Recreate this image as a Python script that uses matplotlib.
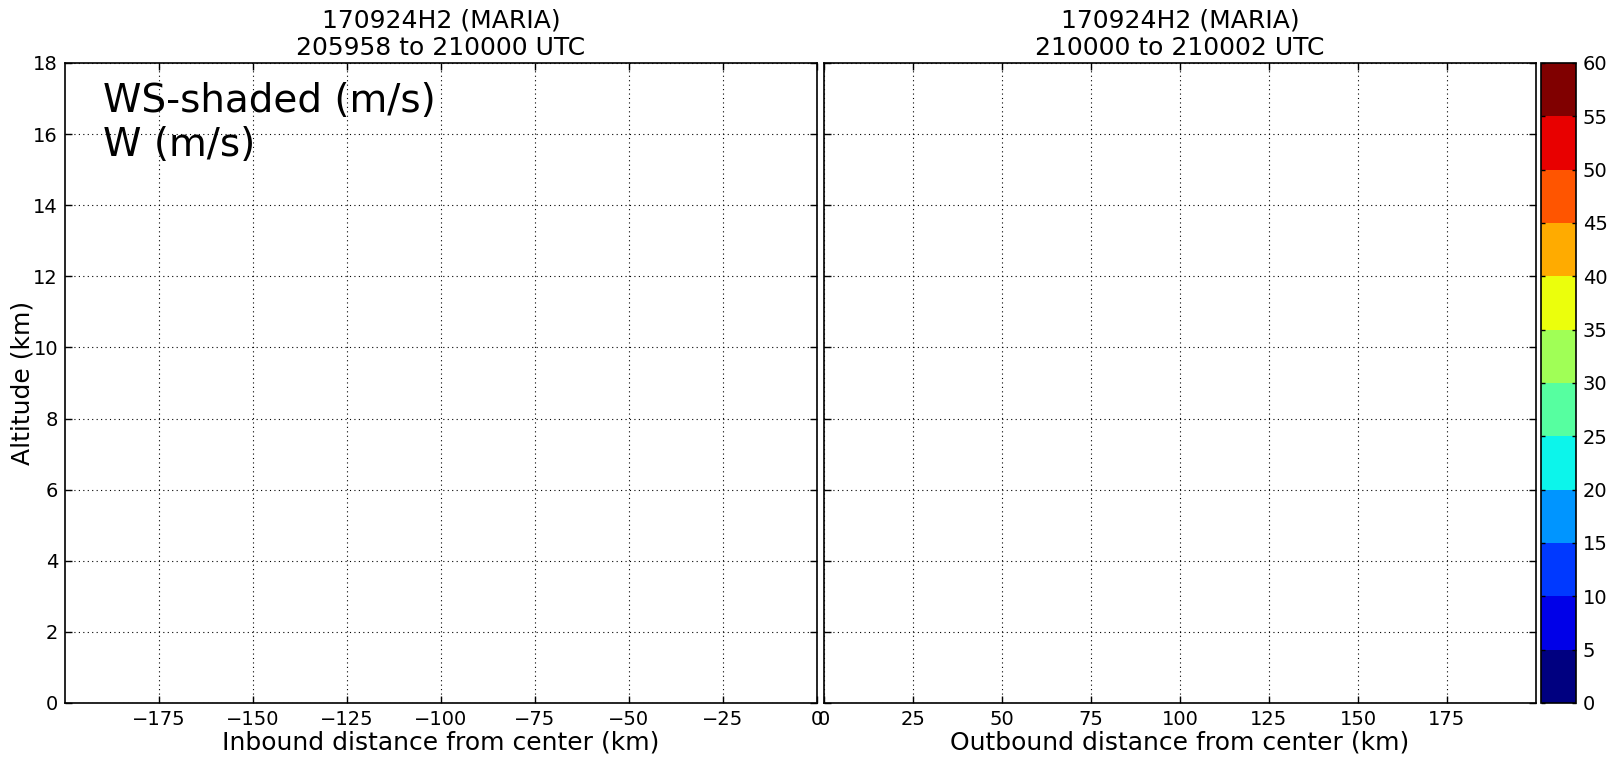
import numpy as np
import matplotlib
matplotlib.use("Agg")
import matplotlib.pyplot as plt
from matplotlib.colors import ListedColormap, BoundaryNorm
from matplotlib.cm import ScalarMappable

# ---- data / labels ----
flight = "170924H2 (MARIA)"
inbound_times = "205958 to 210000 UTC"
outbound_times = "210000 to 210002 UTC"
ws_levels = list(range(0, 61, 5))
inbound_xticks = [-175, -150, -125, -100, -75, -50, -25, 0]
outbound_xticks = [0, 25, 50, 75, 100, 125, 150, 175]
alt_ticks = [0, 2, 4, 6, 8, 10, 12, 14, 16, 18]
inbound_xlim = (-200, 0)
outbound_xlim = (0, 200)
alt_lim = (0, 18)

W, H = 1615, 762
fig = plt.figure(figsize=(W / 100, H / 100), dpi=100)
fig.patch.set_facecolor("white")

def px_axes(x0, x1, ytop, ybot):
    return fig.add_axes([x0 / W, (H - ybot) / H, (x1 - x0) / W, (ybot - ytop) / H])

ax1 = px_axes(65, 817, 63, 703)
ax2 = px_axes(824, 1536, 63, 703)
cax = px_axes(1541, 1576, 63, 703)

tick_fs = 14
for ax, xlim, xt, lab, times in [
    (ax1, inbound_xlim, inbound_xticks, "Inbound distance from center (km)", inbound_times),
    (ax2, outbound_xlim, outbound_xticks, "Outbound distance from center (km)", outbound_times),
]:
    ax.set_xlim(*xlim)
    ax.set_ylim(*alt_lim)
    ax.set_xticks(xt)
    ax.set_yticks(alt_ticks)
    ax.grid(True, color="black", linestyle=(0, (1, 3)), linewidth=0.8)
    ax.tick_params(direction="in", top=True, right=True, length=5, width=1,
                   labelsize=tick_fs, pad=5)
    ax.set_xlabel(lab, fontsize=18, labelpad=1)
    ax.set_title(flight + "\n" + times, fontsize=18, pad=6, linespacing=1.15)
    for s in ax.spines.values():
        s.set_linewidth(1.2)

ax1.set_ylabel("Altitude (km)", fontsize=18, labelpad=-1)
ax2.tick_params(labelleft=False)

ax1.text(0.05, 0.97, "WS-shaded (m/s)\nW (m/s)", transform=ax1.transAxes,
         fontsize=28, va="top", ha="left", linespacing=1.2)

colors = plt.get_cmap("jet")(np.linspace(0, 1, len(ws_levels) - 1))
cmap = ListedColormap(colors)
norm = BoundaryNorm(ws_levels, cmap.N)
sm = ScalarMappable(norm=norm, cmap=cmap)
cb = fig.colorbar(sm, cax=cax, ticks=ws_levels)
cb.ax.tick_params(labelsize=tick_fs, direction="in", length=3, width=1, pad=5)
cb.outline.set_linewidth(1.2)
cb.ax.yaxis.set_ticks_position("both")
cb.ax.tick_params(labelleft=False, labelright=True)

fig.savefig("out.png", dpi=100)
